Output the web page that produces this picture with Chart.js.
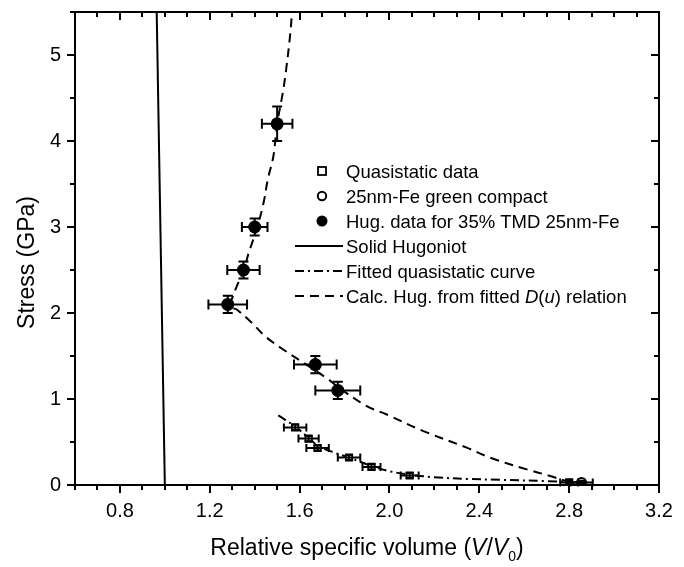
<!DOCTYPE html>
<html>
<head>
<meta charset="utf-8">
<script src="https://cdn.jsdelivr.net/npm/chart.js@4.4.1/dist/chart.umd.min.js"></script>
<style>
  html, body { margin: 0; padding: 0; background: #fff; }
  #c { display: block; }
</style>
</head>
<body>
<canvas id="c" width="684" height="567"></canvas>
<script>
// ---------- data ----------
const xTicks = [0.8, 1.2, 1.6, 2.0, 2.4, 2.8, 3.2];
const yTicks = [0, 1, 2, 3, 4, 5];

// Hugoniot data for 35% TMD 25nm-Fe (filled circles)
const hugX    = [1.50, 1.40, 1.35, 1.28, 1.67, 1.77];
const hugY    = [4.20, 3.00, 2.50, 2.10, 1.40, 1.10];
const hugXErr = [0.068, 0.057, 0.072, 0.086, 0.095, 0.10];
const hugYErr = [0.20, 0.10, 0.10, 0.10, 0.10, 0.10];

// Quasistatic data (open squares)
const quasiX    = [1.58, 1.64, 1.68, 1.82, 1.92, 2.09, 2.80];
const quasiY    = [0.67, 0.54, 0.43, 0.32, 0.21, 0.11, 0.03];
const quasiXErr = [0.05, 0.045, 0.05, 0.05, 0.04, 0.04, 0.04];
const quasiYErr = [0.03, 0.03, 0.03, 0.03, 0.03, 0.03, 0.02];

// 25nm-Fe green compact (open circle)
const greenX    = [2.855];
const greenY    = [0.03];
const greenXErr = [0.05];
const greenYErr = [0.02];

// Solid Hugoniot
const solidX = [1.0, 0.9637];
const solidY = [0.0, 5.5];

// Fitted quasistatic curve
const fitX = [1.505, 1.58, 1.64, 1.68, 1.75, 1.82, 1.92, 2.00, 2.09, 2.20, 2.35, 2.50, 2.70, 2.85];
const fitY = [0.81, 0.68, 0.55, 0.46, 0.38, 0.32, 0.22, 0.16, 0.12, 0.09, 0.07, 0.06, 0.045, 0.03];

// Calc. Hugoniot from fitted D(u) relation
const calcX = [1.568, 1.560, 1.539, 1.525, 1.500, 1.483, 1.458, 1.441, 1.415, 1.384, 1.373, 1.352, 1.320, 1.298, 1.287,
               1.300, 1.320, 1.387, 1.446, 1.527, 1.630, 1.728, 1.770, 1.899, 1.988, 2.151, 2.344, 2.448, 2.611, 2.715, 2.789, 2.860];
const calcY = [5.60, 5.29, 4.81, 4.56, 4.20, 3.82, 3.55, 3.30, 3.03, 2.78, 2.70, 2.50, 2.31, 2.16, 2.10,
               2.06, 2.04, 1.886, 1.73, 1.576, 1.40, 1.228, 1.14, 0.917, 0.82, 0.627, 0.434, 0.318, 0.182, 0.105, 0.046, 0.01];

// ---------- helpers ----------
const FONT = "'Liberation Sans', Arial, Helvetica, sans-serif";
const pts = (xs, ys) => xs.map((x, i) => ({ x: x, y: ys[i] }));

// ---------- plugins ----------
const errorBars = {
  id: 'errorBars',
  afterDatasetsDraw(chart) {
    const ctx = chart.ctx;
    const xs = chart.scales.x, ys = chart.scales.y;
    chart.data.datasets.forEach(ds => {
      if (!ds.errX) return;
      ctx.save();
      ctx.strokeStyle = '#000';
      ctx.lineWidth = 2;
      const cap = ds.capSize || 5;
      ds.data.forEach((p, i) => {
        const cx = xs.getPixelForValue(p.x), cy = ys.getPixelForValue(p.y);
        const xl = xs.getPixelForValue(p.x - ds.errX[i]);
        const xr = xs.getPixelForValue(p.x + ds.errX[i]);
        const yt = ys.getPixelForValue(p.y + ds.errY[i]);
        const yb = ys.getPixelForValue(p.y - ds.errY[i]);
        ctx.beginPath();
        ctx.moveTo(xl, cy); ctx.lineTo(xr, cy);
        ctx.moveTo(xl, cy - cap); ctx.lineTo(xl, cy + cap);
        ctx.moveTo(xr, cy - cap); ctx.lineTo(xr, cy + cap);
        ctx.moveTo(cx, yt); ctx.lineTo(cx, yb);
        ctx.moveTo(cx - cap, yt); ctx.lineTo(cx + cap, yt);
        ctx.moveTo(cx - cap, yb); ctx.lineTo(cx + cap, yb);
        ctx.stroke();
      });
      ctx.restore();
    });
  }
};

function drawParts(ctx, parts, x, y, center) {
  ctx.save();
  ctx.textAlign = 'left';
  ctx.textBaseline = 'alphabetic';
  let total = 0;
  parts.forEach(p => { ctx.font = p.f; p.w = ctx.measureText(p.t).width; total += p.w; });
  let cx = center ? x - total / 2 : x;
  parts.forEach(p => {
    ctx.font = p.f;
    ctx.fillText(p.t, cx, y + p.dy);
    cx += p.w;
  });
  ctx.restore();
}

const frame = {
  id: 'frame',
  afterDraw(chart) {
    const ctx = chart.ctx;
    const a = chart.chartArea;
    const xs = chart.scales.x, ys = chart.scales.y;
    ctx.save();
    ctx.strokeStyle = '#000';
    ctx.lineWidth = 2;
    ctx.strokeRect(a.left, a.top, a.right - a.left, a.bottom - a.top);
    ctx.beginPath();
    for (let i = 6; i <= 32; i++) {
      const v = i / 10;
      const major = xTicks.some(t => Math.abs(t - v) < 1e-6);
      const len = major ? 8 : 5;
      const px = Math.round(xs.getPixelForValue(v));
      ctx.moveTo(px, a.bottom); ctx.lineTo(px, a.bottom + len);
      ctx.moveTo(px, a.top); ctx.lineTo(px, a.top + len);
    }
    for (let i = 0; i <= 11; i++) {
      const v = i / 2;
      const major = yTicks.some(t => Math.abs(t - v) < 1e-6);
      const len = major ? 8 : 5;
      const py = Math.round(ys.getPixelForValue(v));
      ctx.moveTo(a.left, py); ctx.lineTo(a.left - len, py);
      ctx.moveTo(a.right, py); ctx.lineTo(a.right - len, py);
    }
    ctx.stroke();

    // axis titles
    ctx.fillStyle = '#000';
    ctx.save();
    ctx.translate(34, (a.top + a.bottom) / 2 + 14);
    ctx.rotate(-Math.PI / 2);
    ctx.font = '23px ' + FONT;
    ctx.textAlign = 'center';
    ctx.textBaseline = 'alphabetic';
    ctx.fillText('Stress (GPa)', 0, 0);
    ctx.restore();

    drawParts(ctx, [
      { t: 'Relative specific volume (', f: '23px ' + FONT, dy: 0 },
      { t: 'V', f: 'italic 23px ' + FONT, dy: 0 },
      { t: '/', f: '23px ' + FONT, dy: 0 },
      { t: 'V', f: 'italic 23px ' + FONT, dy: 0 },
      { t: '0', f: '14px ' + FONT, dy: 6 },
      { t: ')', f: '23px ' + FONT, dy: 0 }
    ], (a.left + a.right) / 2, 555, true);

    // legend
    const lx0 = 295, lx1 = 343, tx = 346;
    const rows = [171, 196, 221, 246, 271, 296];
    ctx.fillStyle = '#fff';
    ctx.lineWidth = 1.8;
    ctx.fillRect(318, rows[0] - 4, 8, 8);
    ctx.strokeRect(318, rows[0] - 4, 8, 8);
    ctx.lineWidth = 2;
    ctx.beginPath(); ctx.arc(322, rows[1], 4.2, 0, Math.PI * 2); ctx.fill(); ctx.stroke();
    ctx.fillStyle = '#000';
    ctx.beginPath(); ctx.arc(322, rows[2], 5.5, 0, Math.PI * 2); ctx.fill();
    ctx.setLineDash([]);
    ctx.beginPath(); ctx.moveTo(lx0, rows[3]); ctx.lineTo(lx1, rows[3]); ctx.stroke();
    ctx.setLineDash([9, 4, 2, 4]);
    ctx.beginPath(); ctx.moveTo(lx0, rows[4]); ctx.lineTo(lx1, rows[4]); ctx.stroke();
    ctx.setLineDash([9, 6]);
    ctx.beginPath(); ctx.moveTo(lx0, rows[5]); ctx.lineTo(lx1, rows[5]); ctx.stroke();
    ctx.setLineDash([]);

    const lf = '18.5px ' + FONT, lfi = 'italic 18.5px ' + FONT;
    ctx.fillStyle = '#000';
    const labels = ['Quasistatic data', '25nm-Fe green compact', 'Hug. data for 35% TMD 25nm-Fe',
                    'Solid Hugoniot', 'Fitted quasistatic curve'];
    labels.forEach((s, i) => {
      drawParts(ctx, [{ t: s, f: lf, dy: 0 }], tx, rows[i] + 6.5, false);
    });
    drawParts(ctx, [
      { t: 'Calc. Hug. from fitted ', f: lf, dy: 0 },
      { t: 'D', f: lfi, dy: 0 },
      { t: '(', f: lf, dy: 0 },
      { t: 'u', f: lfi, dy: 0 },
      { t: ') relation', f: lf, dy: 0 }
    ], tx, rows[5] + 6.5, false);
    ctx.restore();
  }
};

// ---------- chart ----------
new Chart(document.getElementById('c'), {
  type: 'scatter',
  data: {
    datasets: [
      {
        label: 'Hug. data for 35% TMD 25nm-Fe',
        data: pts(hugX, hugY), errX: hugXErr, errY: hugYErr, capSize: 5,
        pointStyle: 'circle', pointRadius: 6.5, pointBackgroundColor: '#000', pointBorderColor: '#000', pointBorderWidth: 0,
        showLine: false
      },
      {
        label: 'Quasistatic data',
        data: pts(quasiX, quasiY), errX: quasiXErr, errY: quasiYErr, capSize: 4,
        pointStyle: 'rect', pointRadius: 4.5, pointBackgroundColor: '#fff', pointBorderColor: '#000', pointBorderWidth: 1.8,
        showLine: false
      },
      {
        label: '25nm-Fe green compact',
        data: pts(greenX, greenY), errX: greenXErr, errY: greenYErr, capSize: 4,
        pointStyle: 'circle', pointRadius: 4.5, pointBackgroundColor: '#fff', pointBorderColor: '#000', pointBorderWidth: 2,
        showLine: false
      },
      {
        label: 'Solid Hugoniot',
        data: pts(solidX, solidY), showLine: true, pointRadius: 0,
        borderColor: '#000', borderWidth: 2, tension: 0
      },
      {
        label: 'Fitted quasistatic curve',
        data: pts(fitX, fitY), showLine: true, pointRadius: 0,
        borderColor: '#000', borderWidth: 2, borderDash: [9, 4, 2, 4], tension: 0.35
      },
      {
        label: 'Calc. Hug. from fitted D(u) relation',
        data: pts(calcX, calcY), showLine: true, pointRadius: 0,
        borderColor: '#000', borderWidth: 2, borderDash: [9, 6], tension: 0.35
      }
    ]
  },
  options: {
    responsive: false,
    animation: false,
    devicePixelRatio: 1,
    layout: { padding: { left: 0, right: 25, top: 0, bottom: 0 } },
    plugins: { legend: { display: false }, tooltip: { enabled: false } },
    scales: {
      x: {
        type: 'linear', min: 0.6, max: 3.2,
        afterBuildTicks: s => { s.ticks = xTicks.map(v => ({ value: v })); },
        afterFit: s => { s.height = 82; },
        ticks: {
          autoSkip: false, maxRotation: 0, padding: 0, color: '#000',
          font: { family: FONT, size: 20 },
          callback: v => Number(v).toFixed(1)
        },
        grid: { display: false, drawTicks: true, tickLength: 14 },
        border: { display: false }
      },
      y: {
        type: 'linear', min: 0, max: 5.5,
        afterBuildTicks: s => { s.ticks = yTicks.map(v => ({ value: v })); },
        afterFit: s => { s.width = 75; },
        ticks: {
          autoSkip: false, padding: 0, color: '#000',
          font: { family: FONT, size: 20 },
          callback: v => String(v)
        },
        grid: { display: false, drawTicks: true, tickLength: 14 },
        border: { display: false }
      }
    }
  },
  plugins: [errorBars, frame]
});
</script>
</body>
</html>
